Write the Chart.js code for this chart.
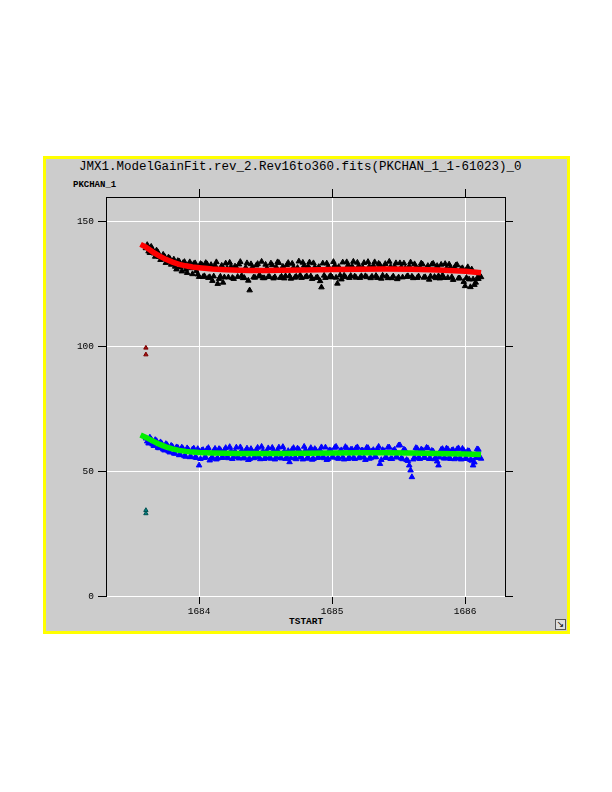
<!DOCTYPE html>
<html>
<head>
<meta charset="utf-8">
<script src="https://cdn.jsdelivr.net/npm/chart.js@4.4.1/dist/chart.umd.min.js"></script>
<style>
  body { margin:0; background:#ffffff; width:612px; height:792px; position:relative; overflow:hidden; }
  #box { position:absolute; left:43px; top:156px; width:527px; height:478px; box-sizing:border-box;
         border:3px solid #ffff00; background:#cccccc; }
  #myChart { position:absolute; left:0; top:0; }
  .txt { position:absolute; font-family:"Liberation Mono", monospace; color:#000; white-space:nowrap; }
  #title { left:79px; top:160px; font-size:12.5px; }
  #ylab { left:73px; top:180px; font-size:9px; font-weight:bold; }
  #xlab { left:289px; top:616px; font-size:9.5px; font-weight:bold; }
  #corner { position:absolute; left:555px; top:619px; width:9px; height:9px; border:1px solid #555;
            background:#ddd; font-size:9px; line-height:9px; text-align:center; font-family:"DejaVu Sans"; }
</style>
</head>
<body>
<div id="box"></div>
<div class="txt" id="title">JMX1.ModelGainFit.rev_2.Rev16to360.fits(PKCHAN_1_1-61023)_0</div>
<div class="txt" id="ylab">PKCHAN_1</div>
<div class="txt" id="xlab">TSTART</div>
<div id="corner">&#8600;</div>
<canvas id="myChart" width="612" height="792"></canvas>
<script>
var xTicks = [1684, 1685, 1686];
var yTicks = [0, 50, 100, 150];

var tstart = [1683.60,1683.62,1683.64,1683.66,1683.68,1683.70,1683.72,1683.74,1683.76,1683.78,
	1683.80,1683.82,1683.84,1683.86,1683.88,1683.90,1683.92,1683.94,1683.96,1683.98,
	1684.00,1684.02,1684.04,1684.06,1684.08,1684.10,1684.12,1684.14,1684.16,1684.18,
	1684.20,1684.22,1684.24,1684.26,1684.28,1684.30,1684.32,1684.34,1684.36,1684.38,
	1684.40,1684.42,1684.44,1684.46,1684.48,1684.50,1684.52,1684.54,1684.56,1684.58,
	1684.60,1684.62,1684.64,1684.66,1684.68,1684.70,1684.72,1684.74,1684.76,1684.78,
	1684.80,1684.82,1684.84,1684.86,1684.88,1684.90,1684.92,1684.94,1684.96,1684.98,
	1685.00,1685.02,1685.04,1685.06,1685.08,1685.10,1685.12,1685.14,1685.16,1685.18,
	1685.20,1685.22,1685.24,1685.26,1685.28,1685.30,1685.32,1685.34,1685.36,1685.38,
	1685.40,1685.42,1685.44,1685.46,1685.48,1685.50,1685.52,1685.54,1685.56,1685.58,
	1685.60,1685.62,1685.64,1685.66,1685.68,1685.70,1685.72,1685.74,1685.76,1685.78,
	1685.80,1685.82,1685.84,1685.86,1685.88,1685.90,1685.92,1685.94,1685.96,1685.98,
	1686.00,1686.02,1686.04,1686.06,1686.08,1686.10,1686.12];

var pkBlack = [139.5,138.2,140.1,137.4,138.6,136.0,135.1,136.2,134.0,135.3,
	133.2,132.1,134.4,131.8,133.6,130.9,132.8,131.5,133.2,130.4,
	128.0,132.9,128.3,133.1,127.9,126.4,132.6,125.2,128.1,125.7,
	133.4,127.8,132.1,127.2,131.7,133.0,128.4,127.6,133.5,122.6,
	131.8,127.7,133.2,128.2,127.5,132.9,128.0,133.4,127.4,131.9,
	133.6,128.1,127.4,132.8,128.3,133.3,127.7,131.6,128.6,133.7,
	127.9,132.3,128.2,133.5,127.6,132.0,123.8,128.5,133.4,128.0,
	127.8,132.6,125.3,128.6,133.8,127.9,132.7,128.4,134.1,127.7,
	132.4,128.3,133.6,127.9,132.2,128.1,133.9,127.6,132.8,128.5,
	133.2,127.5,132.1,128.2,133.5,127.8,131.9,133.4,128.0,132.3,
	128.1,133.1,127.6,131.8,133.0,127.9,132.4,128.2,133.3,127.5,
	128.3,132.9,127.6,131.4,133.0,127.9,131.7,132.8,127.4,131.5,
	124.3,131.9,123.9,127.0,125.7,127.2,127.9];

var pkBlue = [63.2,61.2,62.9,60.2,62.2,59.3,61.1,58.4,60.6,57.6,
	59.9,57.1,59.5,56.6,59.0,55.9,58.7,55.8,59.2,55.4,
	52.4,58.4,55.4,58.9,54.4,55.6,59.1,55.2,58.6,55.5,
	59.4,55.3,58.3,55.7,59.6,55.2,58.5,55.6,59.2,55.0,
	58.0,55.6,59.5,54.9,58.2,55.5,59.3,55.1,58.4,55.7,
	59.6,55.2,58.1,55.6,53.7,58.8,55.3,59.2,55.7,54.8,
	58.6,55.5,59.4,55.0,58.3,55.6,59.7,55.3,54.6,58.5,
	55.6,59.5,55.2,58.2,55.7,59.8,55.0,58.7,55.5,59.3,
	55.3,58.4,55.6,59.5,55.1,58.1,55.7,59.0,53.0,58.6,
	55.5,59.6,55.0,58.3,55.7,60.4,55.2,58.8,54.6,52.4,
	47.7,55.6,59.1,55.0,58.5,55.4,59.3,55.1,58.0,55.6,
	52.4,58.7,55.2,59.2,55.5,58.4,54.9,58.9,55.3,59.1,
	55.0,58.2,54.6,52.4,55.4,58.7,55.1];

// second half of the samples, taken between the ones above
var tstart2 = [1683.61,1683.63,1683.65,1683.67,1683.69,1683.71,1683.73,1683.75,1683.77,1683.79,
	1683.81,1683.83,1683.85,1683.87,1683.89,1683.91,1683.93,1683.95,1683.97,1683.99,
	1684.01,1684.03,1684.05,1684.07,1684.09,1684.11,1684.13,1684.15,1684.17,1684.19,
	1684.21,1684.23,1684.25,1684.27,1684.29,1684.31,1684.33,1684.35,1684.37,1684.39,
	1684.41,1684.43,1684.45,1684.47,1684.49,1684.51,1684.53,1684.55,1684.57,1684.59,
	1684.61,1684.63,1684.65,1684.67,1684.69,1684.71,1684.73,1684.75,1684.77,1684.79,
	1684.81,1684.83,1684.85,1684.87,1684.89,1684.91,1684.93,1684.95,1684.97,1684.99,
	1685.01,1685.03,1685.05,1685.07,1685.09,1685.11,1685.13,1685.15,1685.17,1685.19,
	1685.21,1685.23,1685.25,1685.27,1685.29,1685.31,1685.33,1685.35,1685.37,1685.39,
	1685.41,1685.43,1685.45,1685.47,1685.49,1685.51,1685.53,1685.55,1685.57,1685.59,
	1685.61,1685.63,1685.65,1685.67,1685.69,1685.71,1685.73,1685.75,1685.77,1685.79,
	1685.81,1685.83,1685.85,1685.87,1685.89,1685.91,1685.93,1685.95,1685.97,1685.99,
	1686.01,1686.03,1686.05,1686.07,1686.09,1686.11];

var pkBlack2 = [140.8,137.6,139.0,136.1,137.9,134.8,136.9,133.6,135.8,132.9,
	135.0,131.0,134.2,130.2,134.0,129.6,133.9,129.1,133.5,129.0,
	133.2,128.0,133.6,127.6,132.8,128.2,133.9,127.2,132.5,127.8,
	131.4,133.7,127.6,132.2,128.0,134.0,127.5,131.7,126.5,133.1,
	127.8,132.6,128.4,134.1,127.5,131.5,128.0,132.7,127.9,133.9,
	127.6,132.1,128.3,133.6,127.3,131.8,128.1,134.2,127.6,132.5,
	128.2,133.8,127.2,131.9,127.8,126.3,133.4,127.6,132.2,128.4,
	134.0,127.7,132.0,127.0,128.5,133.9,127.6,132.3,128.2,133.7,
	127.6,131.8,128.3,134.0,127.5,132.5,128.4,133.3,127.3,131.6,
	128.2,134.1,127.5,132.2,127.1,133.5,127.8,131.4,128.3,133.8,
	127.5,132.0,128.2,133.4,127.7,131.3,126.9,133.0,128.0,132.4,
	127.4,128.6,133.2,127.6,131.8,126.8,132.6,127.4,131.2,126.0,
	127.6,127.0,131.0,124.8,127.4,128.4];

var pkBlue2 = [62.0,63.6,60.8,62.6,59.5,61.7,58.8,61.0,58.0,60.3,
	57.2,59.7,56.5,59.6,56.1,59.3,55.7,58.8,55.6,59.0,
	55.0,58.6,55.6,59.4,55.1,58.2,54.8,59.0,55.4,58.5,
	55.6,59.8,55.0,58.1,55.7,59.7,55.2,58.3,54.6,59.0,
	55.3,58.6,55.6,59.9,55.0,58.0,55.5,59.5,54.8,58.5,
	55.4,59.8,55.0,58.2,55.3,59.4,54.9,58.7,55.6,59.9,
	55.1,58.4,54.7,59.0,55.4,58.5,55.6,59.6,55.0,58.3,
	55.6,59.9,55.1,58.5,54.8,59.3,55.5,58.8,55.0,59.7,
	55.7,58.4,54.6,59.4,55.3,58.6,55.7,59.9,54.6,58.2,
	55.4,59.6,55.0,58.7,55.6,60.5,54.9,58.4,54.2,50.4,
	54.8,59.4,55.3,58.8,55.5,59.5,55.0,58.3,54.9,54.0,
	55.6,59.0,55.2,58.9,55.0,58.6,55.4,59.3,54.8,58.4,
	55.2,58.1,54.3,53.6,58.9,55.5];

var fitX = [1683.56,1683.60,1683.65,1683.70,1683.75,1683.80,1683.85,1683.90,1683.95,1684.00,
	1684.10,1684.20,1684.30,1684.40,1684.50,1684.60,1684.80,1685.00,1685.20,1685.40,
	1685.60,1685.80,1686.00,1686.12];
var fitBlack = [141.0,139.9,138.0,136.4,135.0,133.9,133.0,132.4,131.9,131.6,
	131.1,130.8,130.6,130.5,130.5,130.6,130.7,130.9,131.0,131.1,
	131.0,130.7,130.2,129.6];
var fitBlue = [64.6,63.6,62.2,60.9,59.8,59.0,58.4,58.0,57.7,57.5,
	57.3,57.2,57.1,57.1,57.1,57.1,57.2,57.3,57.4,57.4,
	57.3,57.1,56.9,56.7];

var outX = [1683.60, 1683.60];
var outBlack = [99.5, 96.8];
var outBlue = [34.4, 33.1];

function pts(xs, ys) {
	return xs.map(function(x, i) { return {x: x, y: ys[i]}; });
}

function tri(xs, ys, col) {
	return {data: pts(xs, ys), pointStyle: "triangle", pointRadius: 3.2, backgroundColor: col, borderColor: col, borderWidth: 1};
}

var tickFont = {family: "Liberation Mono", size: 9.5};
function plain(v) { return String(v); }

new Chart("myChart", {
	type: "scatter",
	data: {
		datasets: [
			{data: pts(fitX, fitBlack), showLine: true, borderColor: "#ff0000", borderWidth: 5.5, pointRadius: 0, fill: false},
			{data: pts(fitX, fitBlue), showLine: true, borderColor: "#00ee00", borderWidth: 5.5, pointRadius: 0, fill: false},
			{data: pts(outX, outBlack), pointStyle: "triangle", pointRadius: 2.5, backgroundColor: "#a01010", borderColor: "#7a0000", borderWidth: 1},
			{data: pts(outX, outBlue), pointStyle: "triangle", pointRadius: 2.5, backgroundColor: "#008080", borderColor: "#005050", borderWidth: 1},
			tri(tstart, pkBlack, "#000000"),
			tri(tstart2, pkBlack2, "#000000"),
			tri(tstart, pkBlue, "#0000ff"),
			tri(tstart2, pkBlue2, "#0000ff")
		]
	},
	options: {
		responsive: false,
		animation: false,
		devicePixelRatio: 1,
		layout: {padding: 0},
		plugins: {legend: {display: false}, tooltip: {enabled: false}},
		scales: {
			x: {
				type: "linear", position: "bottom", min: 1683.3, max: 1686.3,
				afterBuildTicks: function(s) { s.ticks = xTicks.map(function(v) { return {value: v}; }); },
				afterFit: function(s) { s.height = 196; },
				ticks: {font: tickFont, color: "#000", padding: 2, maxRotation: 0, callback: plain},
				grid: {color: "#ffffff", lineWidth: 1, tickColor: "#000", tickLength: 8},
				border: {color: "#ffffff", width: 1}
			},
			x2: {
				type: "linear", position: "top", min: 1683.3, max: 1686.3,
				afterBuildTicks: function(s) { s.ticks = xTicks.map(function(v) { return {value: v}; }); },
				afterFit: function(s) { s.height = 197; },
				ticks: {display: false},
				grid: {drawOnChartArea: false, tickColor: "#000", tickLength: 8},
				border: {color: "#000", width: 1}
			},
			y: {
				type: "linear", position: "left", min: 0, max: 160,
				afterBuildTicks: function(s) { s.ticks = yTicks.map(function(v) { return {value: v}; }); },
				afterFit: function(s) { s.width = 106; },
				ticks: {font: tickFont, color: "#000", padding: 4, callback: plain},
				grid: {color: "#ffffff", lineWidth: 1, tickColor: "#000", tickLength: 8},
				border: {color: "#000", width: 1}
			},
			y2: {
				type: "linear", position: "right", min: 0, max: 160,
				afterBuildTicks: function(s) { s.ticks = yTicks.map(function(v) { return {value: v}; }); },
				afterFit: function(s) { s.width = 107; },
				ticks: {display: false},
				grid: {drawOnChartArea: false, tickColor: "#000", tickLength: 8},
				border: {color: "#000", width: 1}
			}
		}
	}
});
</script>
</body>
</html>
